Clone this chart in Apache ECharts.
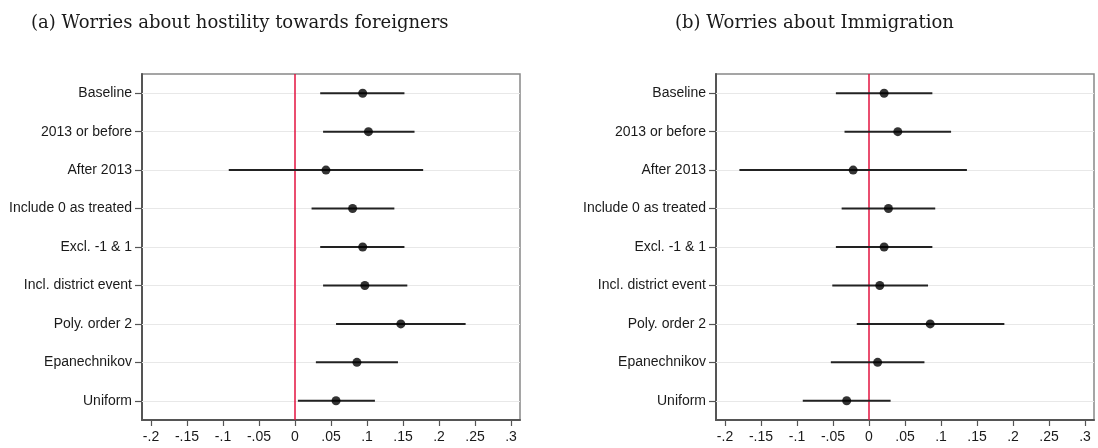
<!DOCTYPE html>
<html>
<head>
<meta charset="utf-8">
<script src="https://cdn.jsdelivr.net/npm/echarts@6/dist/echarts.min.js"></script>
<style>
  html, body { margin: 0; padding: 0; background: #fff; }
  #chart { width: 1098px; height: 448px; }
</style>
</head>
<body>
<div id="chart"></div>
<script>
// Robustness checks: point estimates with 95% CIs
const rows = ['Baseline', '2013 or before', 'After 2013', 'Include 0 as treated',
  'Excl. -1 & 1', 'Incl. district event', 'Poly. order 2', 'Epanechnikov', 'Uniform'];

const hostilityCoef = [0.094, 0.102, 0.043, 0.080, 0.094, 0.097, 0.147, 0.086, 0.057];
const hostilityLo = [0.035, 0.039, -0.092, 0.023, 0.035, 0.039, 0.057, 0.029, 0.004];
const hostilityHi = [0.152, 0.166, 0.178, 0.138, 0.152, 0.156, 0.237, 0.143, 0.111];

const immigCoef = [0.021, 0.040, -0.022, 0.027, 0.021, 0.015, 0.085, 0.012, -0.031];
const immigLo = [-0.046, -0.034, -0.180, -0.038, -0.046, -0.051, -0.017, -0.053, -0.092];
const immigHi = [0.088, 0.114, 0.136, 0.092, 0.088, 0.082, 0.188, 0.077, 0.030];

const tickValues = [-0.2, -0.15, -0.1, -0.05, 0, 0.05, 0.1, 0.15, 0.2, 0.25, 0.3];
const tickLabels = ['-.2', '-.15', '-.1', '-.05', '0', '.05', '.1', '.15', '.2', '.25', '.3'];

const titles = ['(a) Worries about hostility towards foreigners', '(b) Worries about Immigration'];

const chart = echarts.init(document.getElementById('chart'));

const labelFont = 'Liberation Sans, Arial, sans-serif';

function tickLabel(v) {
  const i = tickValues.findIndex((t) => Math.abs(t - v) < 1e-6);
  return i >= 0 ? tickLabels[i] : '';
}

function xAxisFor(gridIndex) {
  return {
    type: 'value',
    gridIndex,
    min: -0.2125,
    max: 0.3125,
    axisLine: { show: true, onZero: false, lineStyle: { color: '#555', width: 2 } },
    axisTick: { show: true, customValues: tickValues, length: 6, lineStyle: { color: '#555', width: 1.2 } },
    axisLabel: {
      customValues: tickValues,
      formatter: tickLabel,
      fontSize: 14,
      color: '#1a1a1a',
      fontFamily: labelFont,
      margin: 10,
    },
    splitLine: { show: false },
  };
}

function yAxisFor(gridIndex) {
  return {
    type: 'category',
    gridIndex,
    data: rows,
    inverse: true,
    axisLine: { show: true, onZero: false, lineStyle: { color: '#555', width: 2 } },
    axisTick: { show: true, alignWithLabel: true, length: 7, lineStyle: { color: '#555', width: 1.2 } },
    axisLabel: { fontSize: 14, color: '#1a1a1a', fontFamily: labelFont, margin: 10 },
    splitLine: { show: false },
  };
}

function ciSeries(idx, lo, hi) {
  return {
    type: 'custom',
    xAxisIndex: idx,
    yAxisIndex: idx,
    encode: { x: [0, 1], y: 2 },
    data: lo.map((l, i) => [l, hi[i], i]),
    z: 3,
    renderItem: (params, api) => {
      const a = api.coord([api.value(0), api.value(2)]);
      const b = api.coord([api.value(1), api.value(2)]);
      return {
        type: 'line',
        shape: { x1: a[0], y1: a[1], x2: b[0], y2: b[1] },
        style: { stroke: '#222', lineWidth: 2 },
      };
    },
  };
}

// red reference line at zero, kept in its own empty series
function zeroSeries(idx) {
  return {
    type: 'scatter',
    xAxisIndex: idx,
    yAxisIndex: idx,
    data: [],
    color: '#e3123f',
    z: 2,
    markLine: {
      silent: true,
      symbol: 'none',
      label: { show: false },
      lineStyle: { color: '#e3123f', width: 1.5, type: 'solid', opacity: 1 },
      emphasis: { disabled: true },
      data: [{ xAxis: 0 }],
      z: 2,
    },
  };
}

function pointSeries(idx, coef) {
  return {
    type: 'scatter',
    xAxisIndex: idx,
    yAxisIndex: idx,
    data: coef.map((c, i) => [c, rows[i]]),
    symbolSize: 9,
    itemStyle: { color: '#000' },
    z: 4,
    // light row guides
    markLine: {
      silent: true,
      symbol: 'none',
      label: { show: false },
      lineStyle: { color: '#e8e8e8', width: 1.2, type: 'solid', opacity: 1 },
      emphasis: { disabled: true },
      data: rows.map((r) => ({ yAxis: r })),
      z: 1,
    },
  };
}

const option = {
  animation: false,
  backgroundColor: '#fff',
  title: [
    { text: titles[0], left: 26, top: 9 },
    { text: titles[1], left: 670, top: 9 },
  ].map((t) => ({
    ...t,
    textStyle: { fontFamily: 'DejaVu Serif, serif', fontSize: 18, fontWeight: 'normal', color: '#1a1a1a' },
  })),
  grid: [
    { left: 142, right: 578, top: 74, bottom: 28, show: true, borderColor: '#888', borderWidth: 1.5, backgroundColor: '#fff' },
    { left: 716, right: 4, top: 74, bottom: 28, show: true, borderColor: '#888', borderWidth: 1.5, backgroundColor: '#fff' },
  ],
  xAxis: [xAxisFor(0), xAxisFor(1)],
  yAxis: [yAxisFor(0), yAxisFor(1)],
  series: [
    zeroSeries(0),
    ciSeries(0, hostilityLo, hostilityHi),
    pointSeries(0, hostilityCoef),
    zeroSeries(1),
    ciSeries(1, immigLo, immigHi),
    pointSeries(1, immigCoef),
  ],
};

chart.setOption(option);
</script>
</body>
</html>
